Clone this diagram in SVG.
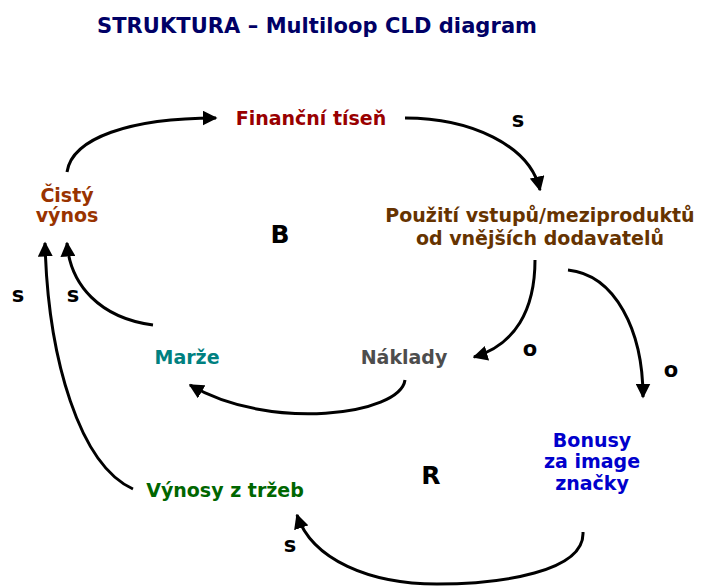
<svg xmlns="http://www.w3.org/2000/svg" width="701" height="586" viewBox="0 0 701 586">
  <style>
    text { font-family: "DejaVu Sans", Verdana, sans-serif; font-weight: bold; }
    .title { font-size: 21px; fill: #000066; }
    .node { font-size: 19px; text-anchor: middle; }
    .pol { font-size: 21px; fill: #000; text-anchor: middle; }
    .loop { font-size: 25px; fill: #000; text-anchor: middle; }
    .link { fill: none; stroke: #000; stroke-width: 3; marker-end: url(#head); }
  </style>
  <defs>
    <marker id="head" viewBox="0 0 10 10" refX="9" refY="5" markerWidth="5" markerHeight="5" orient="auto" markerUnits="strokeWidth">
      <path d="M0,0 L10,5 L0,10 Z" fill="#000"/>
    </marker>
  </defs>

  <text class="title" x="97" y="33" textLength="440">STRUKTURA – Multiloop CLD diagram</text>

  <g id="connectors">
    <path class="link" d="M67,172 C72,138 130,118 216,118"/>
    <path class="link" d="M405,118 C470,118 530,145 540,190"/>
    <path class="link" d="M535,260 C535,310 515,345 474,357"/>
    <path class="link" d="M568,270 C615,275 643,330 643,397"/>
    <path class="link" d="M405,380 C400,415 270,432 190,385"/>
    <path class="link" d="M153,325 C100,318 70,285 67,243"/>
    <path class="link" d="M133,489 C80,465 48,360 45,243"/>
    <path class="link" d="M583,532 C585,572 500,584 437,584 C370,584 312,560 297,515"/>
  </g>

  <g id="polarity">
    <text class="pol" x="518" y="127">s</text>
    <text class="pol" x="18" y="302">s</text>
    <text class="pol" x="73" y="302">s</text>
    <text class="pol" x="530" y="356">o</text>
    <text class="pol" x="671" y="377">o</text>
    <text class="pol" x="290" y="552">s</text>
  </g>

  <g id="loops">
    <text class="loop" x="280" y="243">B</text>
    <text class="loop" x="431" y="484">R</text>
  </g>

  <g id="financni-tisen">
    <text class="node" x="311" y="125" fill="#990000">Finanční tíseň</text>
  </g>
  <g id="cisty-vynos">
    <text class="node" x="67" y="202" fill="#993300">Čistý</text>
    <text class="node" x="67" y="222" fill="#993300">výnos</text>
  </g>
  <g id="pouziti-vstupu">
    <text class="node" x="540" y="222" fill="#663300">Použití vstupů/meziproduktů</text>
    <text class="node" x="540" y="245" fill="#663300">od vnějších dodavatelů</text>
  </g>
  <g id="marze">
    <text class="node" x="187" y="364" fill="#008080">Marže</text>
  </g>
  <g id="naklady">
    <text class="node" x="404" y="364" fill="#4d4d4d">Náklady</text>
  </g>
  <g id="bonusy">
    <text class="node" x="592" y="447" fill="#0000cc">Bonusy</text>
    <text class="node" x="592" y="468" fill="#0000cc">za image</text>
    <text class="node" x="592" y="490" fill="#0000cc">značky</text>
  </g>
  <g id="vynosy-z-trzeb">
    <text class="node" x="225" y="497" fill="#006600">Výnosy z tržeb</text>
  </g>
</svg>
